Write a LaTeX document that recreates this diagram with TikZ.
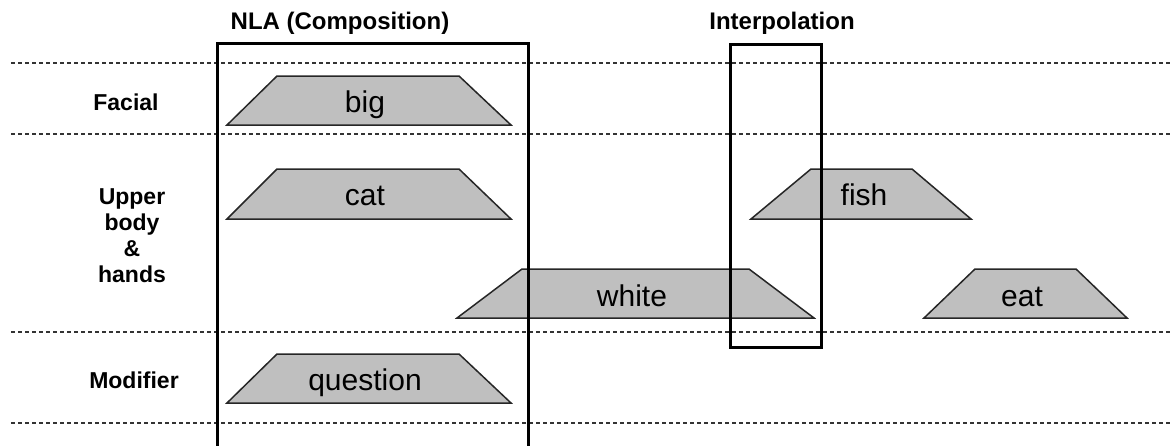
\documentclass[tikz,border=0pt]{standalone}
\usepackage{fontspec}
\setmainfont{Liberation Sans}
\begin{document}
\begin{tikzpicture}[x=1pt,y=-1pt,
  laneline/.style={line width=2pt, black!80, dash pattern=on 4pt off 3pt},
  groupbox/.style={line width=3pt, black},
  clip/.style={fill=black!25, draw=black!85, line width=1.5pt, line join=miter},
  cliptext/.style={font=\fontsize{30}{34}\selectfont, anchor=base, inner sep=0pt},
  rowlabel/.style={font=\fontsize{23}{26}\selectfont\bfseries, align=center, inner sep=0pt},
  title/.style={font=\fontsize{24}{28}\selectfont\bfseries, inner sep=0pt}]
\useasboundingbox (0,0) rectangle (1173,445);
% lane separators
\foreach \y in {63,134,332,423} \draw[laneline] (11,\y) -- (1173,\y);
% clips (trapezoids)
\draw[clip] (227,125) -- (277,76) -- (459,76) -- (511,125) -- cycle;
\draw[clip] (227,219) -- (277,169) -- (459,169) -- (511,219) -- cycle;
\draw[clip] (227,403) -- (277,354) -- (459,354) -- (511,403) -- cycle;
\draw[clip] (457,318) -- (522,269) -- (749,269) -- (814,318) -- cycle;
\draw[clip] (751,219) -- (811,169) -- (912,169) -- (971,219) -- cycle;
\draw[clip] (924,318) -- (975,269) -- (1076,269) -- (1127,318) -- cycle;
\node[cliptext] (big) at (365,112) {big};
\node[cliptext] (cat) at (365,205) {cat};
\node[cliptext] (question) at (365,390) {question};
\node[cliptext] (white) at (632,306) {white};
\node[cliptext] (fish) at (864,205) {fish};
\node[cliptext] (eat) at (1022,306) {eat};
% group boxes
\draw[groupbox] (217,450) -- (217,43) -- (528,43) -- (528,450);
\draw[groupbox] (730,44) rectangle (821,347);
% titles
\node[title] (nla) at (340,23) {NLA (Composition)};
\node[title] (interp) at (782,23) {Interpolation};
% row labels
\node[rowlabel, anchor=base] (facial) at (126,110) {Facial};
\node[rowlabel] (upper) at (132,236) {Upper\\body\\\&\\hands};
\node[rowlabel, anchor=base] (modifier) at (134,388) {Modifier};
\end{tikzpicture}
\end{document}
